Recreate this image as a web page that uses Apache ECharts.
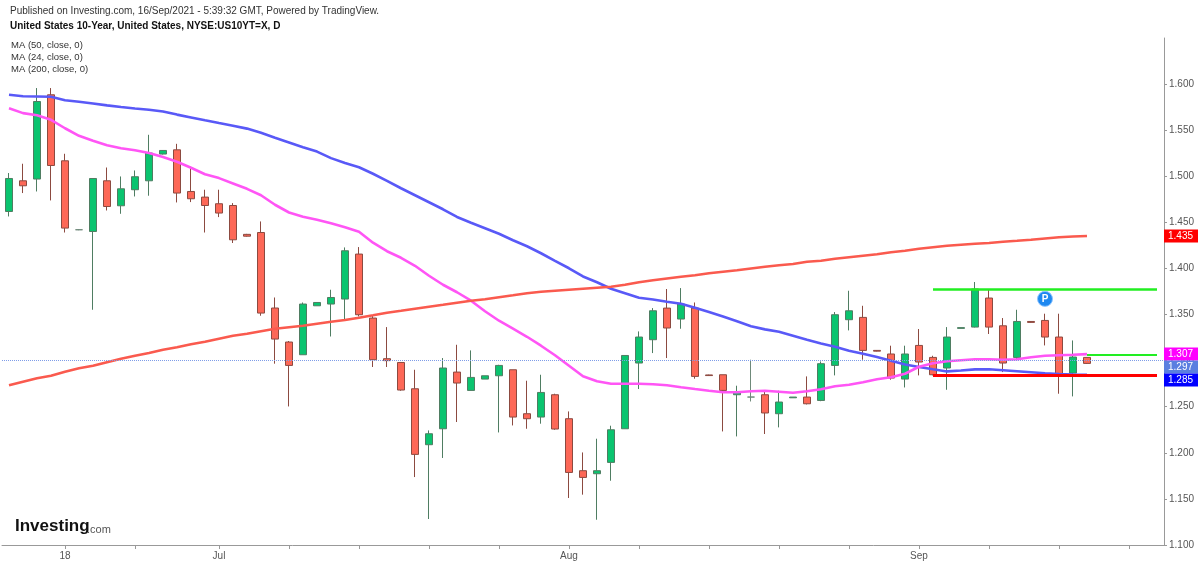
<!DOCTYPE html>
<html>
<head>
<meta charset="utf-8">
<script src="https://cdn.jsdelivr.net/npm/echarts@6/dist/echarts.min.js"></script>
<style>
html,body{margin:0;padding:0;background:#fff;}
#chart{width:1200px;height:566px;}
</style>
</head>
<body>
<div id="chart"></div>
<script>
// ---- Data ----
// candle: [open, close, low, high]
const opens  = [1.4618,1.4951,1.4970,1.5884,1.5168,1.4420,1.4401,1.4951,1.4680,1.4854,
                1.4951,1.5241,1.5287,1.4835,1.4774,1.4702,1.4683,1.4370,1.4390,1.3571,
                1.3202,1.3064,1.3595,1.3614,1.3668,1.4156,1.3462,1.3021,1.2980,1.2695,
                1.2088,1.2261,1.2876,1.2677,1.2800,1.2836,1.2901,1.2424,1.2388,1.2630,
                1.2370,1.1806,1.1773,1.1896,1.2261,1.2974,1.3227,1.3570,1.3451,1.3570,
                1.2845,1.2847,1.2630,1.2605,1.2630,1.2424,1.2597,1.2605,1.2568,1.2948,
                1.3444,1.3469,1.3111,1.3072,1.2800,1.3165,1.3035,1.2920,1.3350,1.3364,
                1.3679,1.3378,1.3035,1.3425,1.3436,1.3256,1.2865,1.3035];
const closes = [1.4976,1.4897,1.5811,1.5117,1.4438,1.4420,1.4976,1.4672,1.4864,1.4995,
                1.5252,1.5280,1.4818,1.4756,1.4683,1.4601,1.4311,1.4350,1.3516,1.3234,
                1.2948,1.3614,1.3631,1.3685,1.4192,1.3498,1.3010,1.3000,1.2681,1.1983,
                1.2207,1.2920,1.2757,1.2818,1.2836,1.2948,1.2388,1.2370,1.2655,1.2258,
                1.1787,1.1733,1.1806,1.2250,1.3056,1.3256,1.3541,1.3354,1.3614,1.2829,
                1.2838,1.2677,1.2659,1.2605,1.2432,1.2551,1.2605,1.2532,1.2967,1.3498,
                1.3541,1.3111,1.3103,1.2811,1.3072,1.2985,1.2847,1.3256,1.3358,1.3777,
                1.3364,1.2974,1.3425,1.3415,1.3256,1.2836,1.3039,1.2970];
const lows   = [1.4564,1.4818,1.4835,1.4738,1.4390,1.4415,1.3552,1.4629,1.4593,1.4781,
                1.4789,1.5236,1.4716,1.4720,1.4390,1.4557,1.4276,1.4345,1.3487,1.2967,
                1.2503,1.3064,1.3595,1.3262,1.3444,1.3479,1.2931,1.2931,1.2673,1.1737,
                1.1282,1.1944,1.2334,1.2677,1.2800,1.2221,1.2297,1.2261,1.2316,1.2250,
                1.1510,1.1546,1.1274,1.1697,1.2261,1.2692,1.3082,1.3028,1.3346,1.2804,
                1.2835,1.2232,1.2178,1.2557,1.2204,1.2276,1.2597,1.2525,1.2560,1.2840,
                1.3328,1.3010,1.3100,1.2793,1.2709,1.2840,1.2840,1.2684,1.3350,1.3360,
                1.3289,1.2876,1.3002,1.3412,1.3165,1.2641,1.2612,1.2965];
const highs  = [1.5035,1.5136,1.5957,1.5957,1.5244,1.4425,1.4976,1.5095,1.4998,1.5063,
                1.5450,1.5285,1.5352,1.5106,1.4854,1.4854,1.4709,1.4375,1.4510,1.3685,
                1.3213,1.3631,1.3631,1.3769,1.4228,1.4232,1.3487,1.3364,1.2980,1.2901,
                1.2243,1.3028,1.3172,1.3111,1.2836,1.2955,1.2901,1.2782,1.2847,1.2641,
                1.2449,1.2004,1.2153,1.2294,1.3056,1.3317,1.3570,1.3777,1.3787,1.3631,
                1.2848,1.2847,1.2728,1.3010,1.2666,1.2674,1.2605,1.2829,1.2991,1.3527,
                1.3758,1.3595,1.3114,1.3162,1.3162,1.3343,1.3053,1.3364,1.3358,1.3853,
                1.3777,1.3462,1.3552,1.3428,1.3509,1.3509,1.3219,1.3035];

const ma50  = [1.5884,1.5868,1.5866,1.5862,1.5824,1.5808,1.5790,1.5769,1.5752,1.5736,
               1.5721,1.5702,1.5669,1.5638,1.5607,1.5577,1.5548,1.5517,1.5472,1.5418,
               1.5367,1.5316,1.5268,1.5197,1.5144,1.5098,1.5027,1.4951,1.4870,1.4794,
               1.4718,1.4642,1.4559,1.4496,1.4436,1.4376,1.4306,1.4241,1.4165,1.4083,
               1.4002,1.3913,1.3850,1.3780,1.3731,1.3682,1.3664,1.3639,1.3617,1.3574,
               1.3527,1.3478,1.3427,1.3373,1.3339,1.3313,1.3270,1.3227,1.3187,1.3151,
               1.3107,1.3075,1.3039,1.2999,1.2959,1.2931,1.2906,1.2883,1.2893,1.2905,
               1.2907,1.2896,1.2885,1.2874,1.2863,1.2855,1.2850,1.2847];
const ma24  = [1.5738,1.5685,1.5662,1.5613,1.5521,1.5439,1.5385,1.5336,1.5304,1.5282,
               1.5252,1.5208,1.5157,1.5092,1.5022,1.4980,1.4922,1.4864,1.4794,1.4691,
               1.4607,1.4561,1.4528,1.4490,1.4447,1.4398,1.4279,1.4187,1.4116,1.4029,
               1.3921,1.3823,1.3742,1.3650,1.3536,1.3433,1.3346,1.3259,1.3162,1.3058,
               1.2945,1.2831,1.2777,1.2749,1.2749,1.2749,1.2744,1.2733,1.2711,1.2692,
               1.2674,1.2657,1.2657,1.2668,1.2674,1.2663,1.2652,1.2668,1.2690,1.2722,
               1.2739,1.2766,1.2798,1.2820,1.2858,1.2934,1.2972,1.2993,1.3004,1.3015,
               1.3015,1.3010,1.3015,1.3037,1.3053,1.3059,1.3064,1.3071];
const ma200 = [1.2733,1.2771,1.2809,1.2836,1.2880,1.2918,1.2945,1.2983,1.3021,1.3053,
               1.3082,1.3118,1.3145,1.3178,1.3205,1.3238,1.3270,1.3292,1.3319,1.3346,
               1.3363,1.3379,1.3401,1.3422,1.3440,1.3465,1.3492,1.3520,1.3541,1.3563,
               1.3585,1.3606,1.3628,1.3650,1.3666,1.3688,1.3709,1.3731,1.3747,1.3758,
               1.3769,1.3780,1.3791,1.3802,1.3823,1.3850,1.3872,1.3891,1.3910,1.3926,
               1.3948,1.3964,1.3980,1.4000,1.4018,1.4035,1.4048,1.4073,1.4083,1.4105,
               1.4122,1.4138,1.4154,1.4176,1.4192,1.4214,1.4230,1.4246,1.4257,1.4268,
               1.4276,1.4290,1.4300,1.4311,1.4325,1.4338,1.4346,1.4352];

// x-axis: 78 bars plus 5 empty future slots
const slotCount = 83;
const tickIdx   = [4,9,15,20,25,30,35,40,45,50,55,60,65,70,75,80];
const labelIdx  = [4,15,40,65];
const labelText = ["18","Jul","Aug","Sep"];
// y-axis
const yMin = 1.1, yMax = 1.65, yStep = 0.05;
// drawn levels: [startIndex, endIndex, value]
const topLevel    = [66, 82, 1.3777];
const supportLvl  = [66, 82, 1.2840];
const greenLvl2   = [77, 82, 1.3065];
const pMarker     = [74, 1.367];

// ---- Build ----
const categories = Array.from({length: slotCount}, (_, i) => String(i + 1));
const candles = opens.map((o, i) => [o, closes[i], lows[i], highs[i]]);
const lastClose = closes[closes.length - 1];
const last = ma50.length - 1;

const chart = echarts.init(document.getElementById('chart'));
const font = '"Liberation Sans", Arial, sans-serif';

const option = {
  animation: false,
  backgroundColor: '#fff',
  textStyle: {fontFamily: font},
  grid: {left: 2, right: 36, top: 38, bottom: 21},
  xAxis: {
    type: 'category',
    data: categories,
    boundaryGap: true,
    axisLine: {lineStyle: {color: '#999', width: 1}},
    axisTick: {show: true, alignWithLabel: true, length: 4, lineStyle: {color: '#999'},
               interval: (i) => tickIdx.includes(i)},
    axisLabel: {color: '#555', fontSize: 10, margin: 6, fontFamily: font,
                interval: (i) => labelIdx.includes(i),
                formatter: (v, i) => { const k = labelIdx.indexOf(i); return k >= 0 ? labelText[k] : ''; }},
    splitLine: {show: false}
  },
  yAxis: {
    type: 'value',
    position: 'right',
    min: yMin, max: yMax, interval: yStep,
    scale: true,
    axisLine: {show: true, lineStyle: {color: '#999', width: 1}},
    axisTick: {show: true, length: 3, lineStyle: {color: '#999'}},
    axisLabel: {color: '#555', fontSize: 10, margin: 5, fontFamily: font, showMaxLabel: false,
                formatter: (v) => v.toFixed(3)},
    splitLine: {show: false}
  },
  series: [
    {
      type: 'candlestick',
      data: candles,
      barWidth: 8,
      itemStyle: {
        color: '#0ac46f', color0: '#fd6857',
        borderColor: '#4f7d62', borderColor0: '#8c4a40',
        borderColorDoji: '#6f8a7a', borderWidth: 1
      },
      markLine: {
        silent: true, symbol: 'none',
        label: {show: false},
        data: [
          {yAxis: lastClose, lineStyle: {type: 'dotted', color: '#7f9de8', width: 1}},
          [{coord: [topLevel[0], topLevel[2]], lineStyle: {color: '#22ee22', width: 2.5, type: 'solid'}},
           {coord: [topLevel[1], topLevel[2]]}],
          [{coord: [supportLvl[0], supportLvl[2]], lineStyle: {color: '#ff0000', width: 3, type: 'solid'}},
           {coord: [supportLvl[1], supportLvl[2]]}],
          [{coord: [greenLvl2[0], greenLvl2[2]], lineStyle: {color: '#22ee22', width: 2, type: 'solid'}},
           {coord: [greenLvl2[1], greenLvl2[2]]}]
        ]
      },
      markPoint: {
        silent: true,
        data: [{coord: pMarker, symbol: 'circle', symbolSize: 15,
                itemStyle: {color: '#1e88f0', borderColor: '#8cc4ff', borderWidth: 1},
                label: {show: true, formatter: 'P', color: '#fff', fontSize: 10, fontWeight: 'bold'}}]
      }
    },
    {type: 'line', name: 'MA 50', data: ma50, symbol: 'none', lineStyle: {color: '#5959f7', width: 2.6}, z: 3},
    {type: 'line', name: 'MA 24', data: ma24, symbol: 'none', lineStyle: {color: '#ff55f5', width: 2.6}, z: 3},
    {type: 'line', name: 'MA 200', data: ma200, symbol: 'none', lineStyle: {color: '#fa5a4e', width: 2.6}, z: 3}
  ]
};
chart.setOption(option);

// header texts and logo
const graphics = [
  {type: 'text', left: 10, top: 6, style: {text: 'Published on Investing.com, 16/Sep/2021 - 5:39:32 GMT, Powered by TradingView.', fill: '#333', font: '10px ' + font}},
  {type: 'text', left: 10, top: 21, style: {text: 'United States 10-Year, United States, NYSE:US10YT=X, D', fill: '#111', font: 'bold 10px ' + font}},
  {type: 'text', left: 11, top: 40, style: {text: 'MA (50, close, 0)', fill: '#333', font: '9.5px ' + font}},
  {type: 'text', left: 11, top: 52, style: {text: 'MA (24, close, 0)', fill: '#333', font: '9.5px ' + font}},
  {type: 'text', left: 11, top: 64, style: {text: 'MA (200, close, 0)', fill: '#333', font: '9.5px ' + font}},
  {type: 'text', left: 15, top: 518, style: {text: 'Investing', fill: '#111', font: 'bold 17px "Liberation Sans Narrow", ' + font}},
  {type: 'text', left: 87, top: 524, style: {text: '.com', fill: '#555', font: '11px "Liberation Sans Narrow", ' + font}}
];

// end-of-line price labels, positioned through the y scale
const endLabels = [
  {v: ma200[last], bg: '#ff0000'},
  {v: ma24[last], bg: '#ff00ff'},
  {v: lastClose, bg: '#5a7fe0'},
  {v: ma50[last], bg: '#0000ff'}
].map(l => Object.assign(l, {y: chart.convertToPixel({yAxisIndex: 0}, l.v)}))
 .sort((a, b) => a.y - b.y);
for (let i = 1; i < endLabels.length; i++) {
  if (endLabels[i].y < endLabels[i - 1].y + 13) endLabels[i].y = endLabels[i - 1].y + 13;
}
const axisX = 1200 - 36;
endLabels.forEach(l => {
  graphics.push({type: 'rect', shape: {x: axisX, y: l.y - 6.5, width: 34, height: 13},
                 style: {fill: l.bg}, z: 10});
  graphics.push({type: 'text', x: axisX + 4, y: l.y, style: {text: l.v.toFixed(3), fill: '#fff',
                 font: '10px ' + font, verticalAlign: 'middle'}, z: 11});
});
chart.setOption({graphic: graphics});
</script>
</body>
</html>
